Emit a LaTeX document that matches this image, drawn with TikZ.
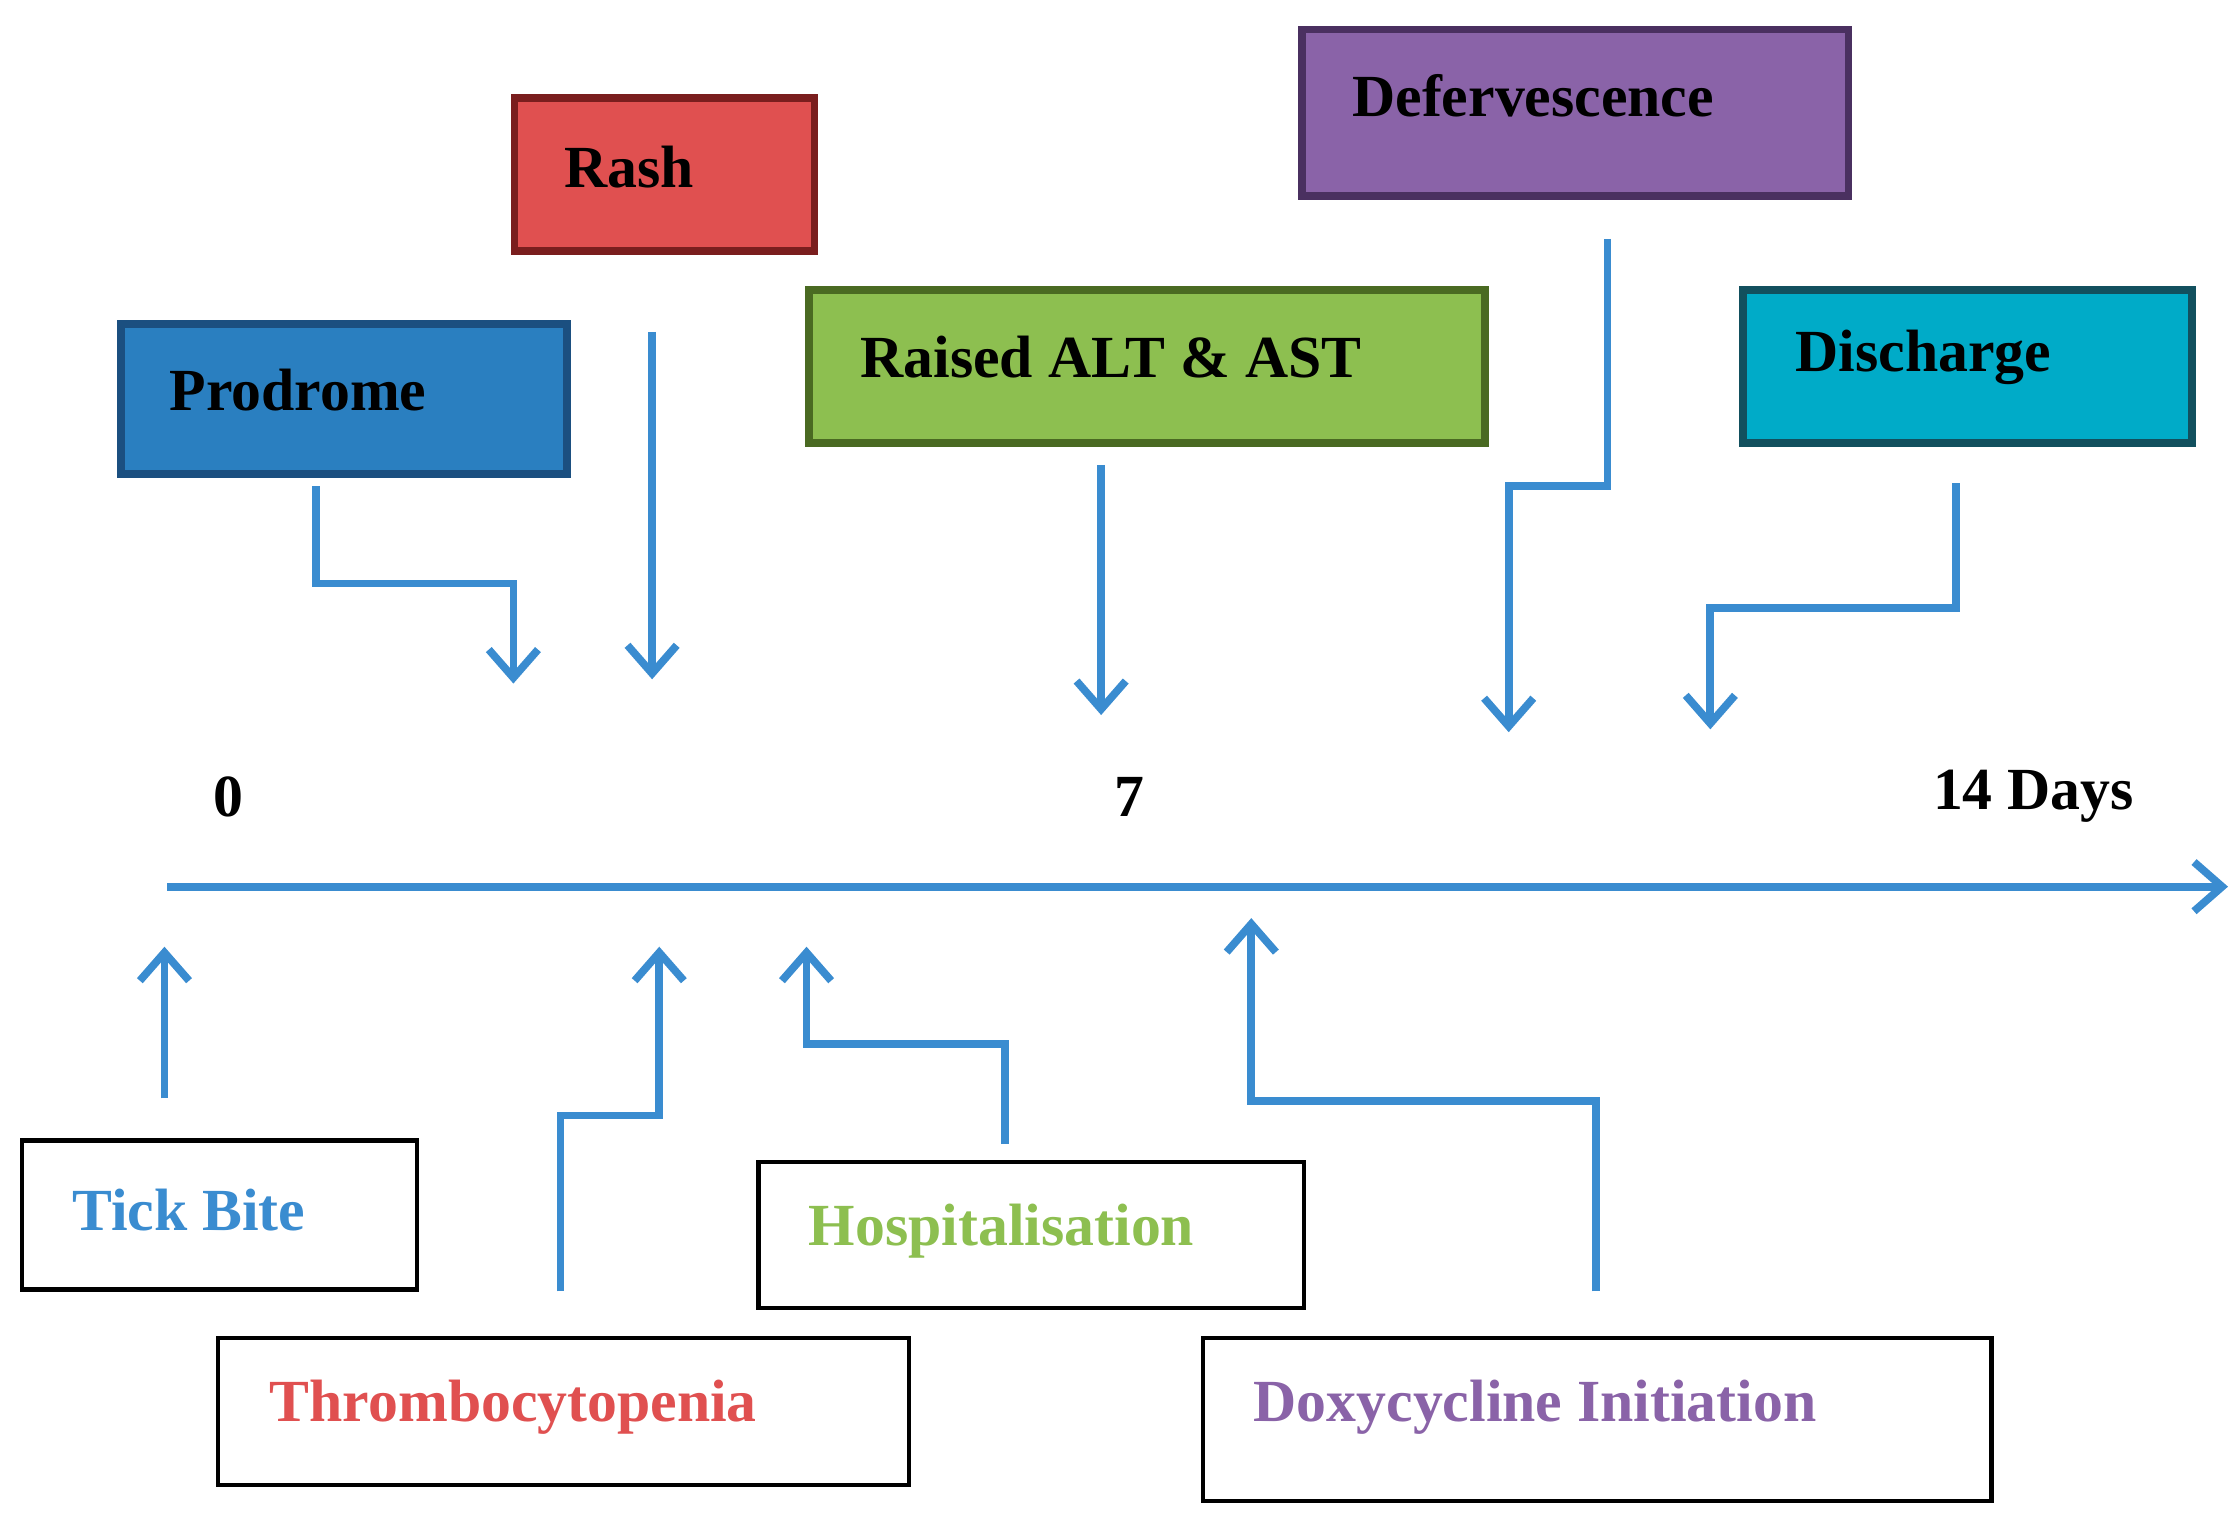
\documentclass[tikz,border=0pt]{standalone}
\usepackage{fontspec}
\setmainfont{Liberation Serif}
\usetikzlibrary{arrows.meta}
\definecolor{ablue}{HTML}{3A8CD0}
\definecolor{cpro}{HTML}{2A7FC0}\definecolor{bpro}{HTML}{1B4F80}
\definecolor{crash}{HTML}{E05050}\definecolor{brash}{HTML}{7A1E1E}
\definecolor{calt}{HTML}{8DBF50}\definecolor{balt}{HTML}{4A6A22}
\definecolor{cdef}{HTML}{8A63A8}\definecolor{bdef}{HTML}{4A3060}
\definecolor{cdis}{HTML}{00ABC8}\definecolor{bdis}{HTML}{12505E}
\begin{document}
\begin{tikzpicture}[x=0.0143cm,y=-0.0143cm,
  top/.style={draw, line width=2.2pt, anchor=north west, inner sep=0pt},
  bot/.style={draw=black, line width=1.2pt, fill=white, anchor=north west, inner sep=0pt},
  arr/.style={draw=ablue, line width=2.2pt, -{Straight Barb[length=8pt,width=14pt,line width=2.2pt]}},
  lab/.style={font=\fontsize{17}{20}\bfseries\selectfont}]
\useasboundingbox (0,0) rectangle (1565,1060);
% top boxes
\node[top, fill=cpro, draw=bpro, minimum width=4.46cm, minimum height=1.50cm] (pro) at (82,224) {};
\node[lab, anchor=west] at (110,273) {Prodrome};
\node[top, fill=crash, draw=brash, minimum width=3.00cm, minimum height=1.53cm] (rash) at (357,66) {};
\node[lab, anchor=west] at (386,117) {Rash};
\node[top, fill=calt, draw=balt, minimum width=6.76cm, minimum height=1.53cm] (alt) at (563,200) {};
\node[lab, anchor=west] at (593,250) {Raised ALT \& AST};
\node[top, fill=cdef, draw=bdef, minimum width=5.46cm, minimum height=1.66cm] (def) at (908,18) {};
\node[lab, anchor=west] at (937,67) {Defervescence};
\node[top, fill=cdis, draw=bdis, minimum width=4.49cm, minimum height=1.53cm] (dis) at (1216,200) {};
\node[lab, anchor=west] at (1247,250) {Discharge};
% bottom boxes
\node[bot, minimum width=3.95cm, minimum height=1.49cm] (tick) at (14,796) {};
\node[lab, anchor=west, text=ablue] at (42,846) {Tick Bite};
\node[bot, minimum width=6.91cm, minimum height=1.47cm] (thr) at (151,934) {};
\node[lab, anchor=west, text=crash] at (180,984) {Thrombocytopenia};
\node[bot, minimum width=5.45cm, minimum height=1.46cm] (hosp) at (529,811) {};
\node[lab, anchor=west, text=calt] at (557,861) {Hospitalisation};
\node[bot, minimum width=7.88cm, minimum height=1.63cm] (doxy) at (840,934) {};
\node[lab, anchor=west, text=cdef] at (868,984) {Doxycycline Initiation};
% axis
\node[lab] (d0) at (160,557) {0};
\node[lab] (d7) at (790,557) {7};
\node[lab] (d14) at (1422,557) {14 Days};
\coordinate (a0) at (117,620); \coordinate (a1) at (1558,620);
\draw[arr] (a0) -- (a1);
% top arrows
\coordinate (p1) at (221,340); \coordinate (p2) at (359,478);
\draw[arr] (p1) |- (290,408) -| (p2);
\coordinate (r1) at (456,232); \coordinate (r2) at (456,475);
\draw[arr] (r1) -- (r2);
\coordinate (l1) at (770,325); \coordinate (l2) at (770,500);
\draw[arr] (l1) -- (l2);
\coordinate (f1) at (1124,167); \coordinate (f2) at (1055,512);
\draw[arr] (f1) |- (1090,340) -| (f2);
\coordinate (c1) at (1368,338); \coordinate (c2) at (1196,510);
\draw[arr] (c1) |- (1280,425) -| (c2);
% bottom arrows
\coordinate (t1) at (115,768); \coordinate (t2) at (115,662);
\draw[arr] (t1) -- (t2);
\coordinate (h1) at (392,903); \coordinate (h2) at (461,662);
\draw[arr] (h1) |- (430,780) -| (h2);
\coordinate (s1) at (703,800); \coordinate (s2) at (564,662);
\draw[arr] (s1) |- (630,730) -| (s2);
\coordinate (x1) at (1116,903); \coordinate (x2) at (875,642);
\draw[arr] (x1) |- (1000,770) -| (x2);
\end{tikzpicture}
\end{document}
